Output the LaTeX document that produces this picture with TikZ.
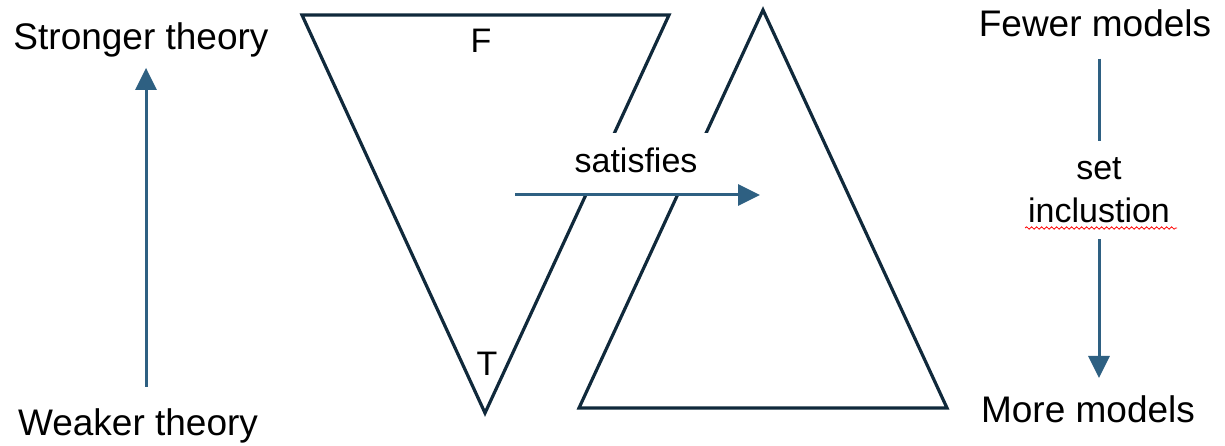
\documentclass[tikz,border=0pt]{standalone}
\usepackage{fontspec}
\setmainfont{Liberation Sans}
\usetikzlibrary{arrows.meta,decorations.pathmorphing}

\definecolor{trinavy}{RGB}{16,41,59}
\definecolor{linkblue}{RGB}{46,96,130}

\tikzset{
	bigtext/.style={inner sep=0pt, anchor=base, font=\fontsize{37}{44}\selectfont},
	smalltext/.style={inner sep=0pt, anchor=base, font=\fontsize{34}{43}\selectfont},
	tri/.style={draw=trinavy, line width=3.2pt, line join=miter},
	link/.style={draw=linkblue, line width=3pt},
	tip/.style={-{Triangle[length=22pt,width=21pt]}}
}

\begin{document}
\begin{tikzpicture}[x=1pt,y=1pt]
		\useasboundingbox (0,0) rectangle (1225,445);
		
		% Theory strength
		\node[bigtext] (strong) at (141,395) {Stronger theory};
		\node[bigtext] (weak) at (138,10) {Weaker theory};
		\draw[link,tip] ([xshift=8pt,yshift=21pt]weak.north) -- ([xshift=5pt,yshift=-10pt]strong.south);
		
		% Theory triangle and model triangle
		\draw[tri] (302,430) -- (669,430) -- (485,32) -- cycle;
		\draw[tri] (763,435) -- (579,37) -- (947,37) -- cycle;
		\node[smalltext] (false) at (481,392) {F};
		\node[smalltext] (true) at (487,70) {T};
		
		% Satisfaction
		\node[smalltext, fill=white, text height=40pt, text depth=20pt, minimum width=150pt] (sat) at (636,272) {satisfies};
		\coordinate (satfrom) at (515,250);
		\coordinate (satto) at (760,250);
		\draw[link,tip] (satfrom) -- (satto);
		
		% Model counts
		\node[bigtext] (fewer) at (1095,408) {Fewer models};
		\node[bigtext] (more) at (1088,23) {More models};
		\node[smalltext, anchor=center, align=center, inner ysep=16.5pt] (setincl) at (1099,255) {set\\inclustion};
		\draw[link] (fewer.south -| setincl.north) ++(0,-21) -- (setincl.north);
		\draw[link,tip] (setincl.south) -- ([yshift=17pt]setincl.south |- more.north);
		\draw[red, line width=0.8pt, decorate, decoration={snake, amplitude=1.2pt, segment length=5pt}] (1025,217) -- (1177,217);
	\end{tikzpicture}
\end{document}
